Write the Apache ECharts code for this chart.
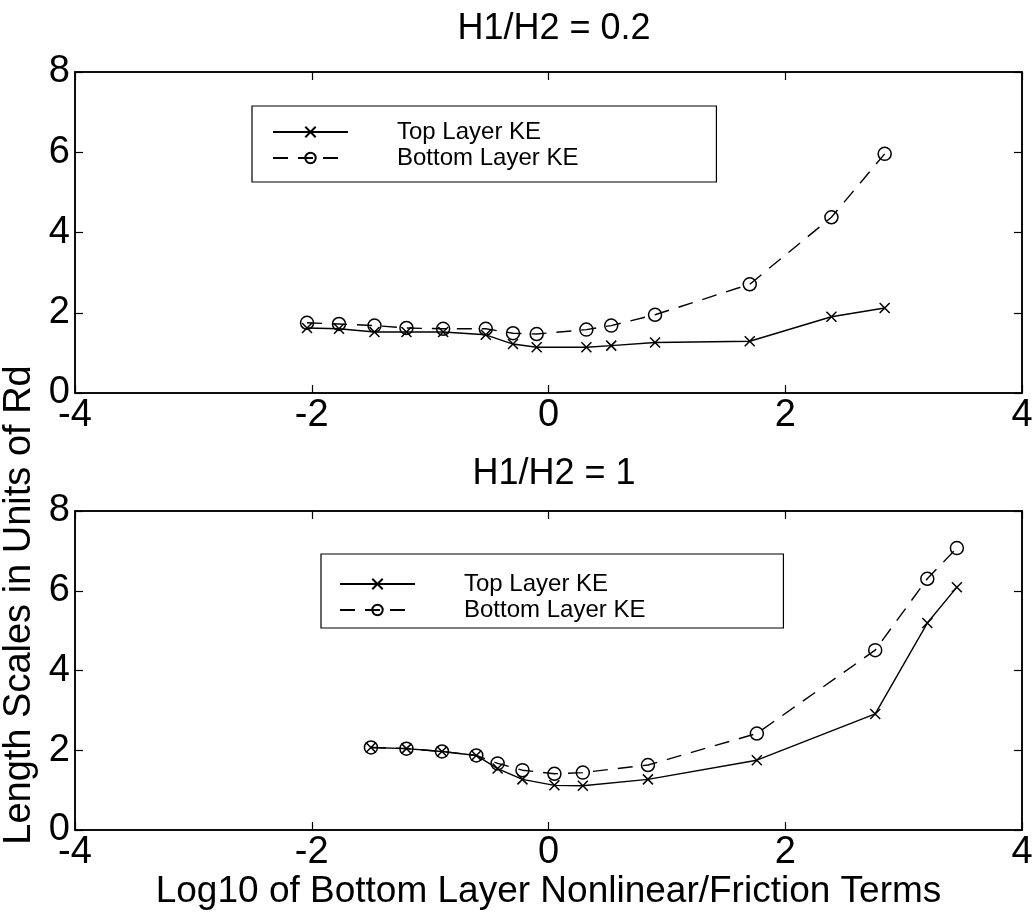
<!DOCTYPE html>
<html>
<head>
<meta charset="utf-8">
<script src="https://cdn.jsdelivr.net/npm/echarts@6/dist/echarts.min.js"></script>
<style>html,body{margin:0;padding:0;background:#fff}#c{width:1036px;height:921px}</style>
</head>
<body>
<div id="c"></div>
<script>
// H1/H2 = 0.2
const xTop = [-2.04, -1.77, -1.47, -1.20, -0.89, -0.53, -0.30, -0.10, 0.32, 0.53, 0.90, 1.70, 2.39, 2.84];
const topKE1 = [1.62, 1.60, 1.52, 1.52, 1.52, 1.45, 1.22, 1.14, 1.14, 1.18, 1.26, 1.29, 1.90, 2.12];
const botKE1 = [1.75, 1.72, 1.68, 1.62, 1.60, 1.60, 1.49, 1.47, 1.58, 1.68, 1.95, 2.71, 4.38, 5.96];
// H1/H2 = 1
const xBot = [-1.50, -1.20, -0.90, -0.61, -0.43, -0.22, 0.05, 0.29, 0.84, 1.76, 2.76, 3.20, 3.45];
const topKE2 = [2.07, 2.04, 1.97, 1.87, 1.54, 1.27, 1.12, 1.11, 1.27, 1.75, 2.91, 5.19, 6.09];
const botKE2 = [2.07, 2.04, 1.97, 1.87, 1.67, 1.50, 1.41, 1.44, 1.63, 2.42, 4.51, 6.30, 7.07];

const titles = ['H1/H2 = 0.2', 'H1/H2 = 1'];
const seriesNames = ['Top Layer KE', 'Bottom Layer KE'];
const xLabel = 'Log10 of Bottom Layer Nonlinear/Friction Terms';
const yLabel = 'Length Scales in Units of Rd';

const FONT = 'Liberation Sans';
const crossPath = 'path://M0,0L10,10M0,10L10,0';

function pairs(xs, ys) { return xs.map((x, i) => [x, ys[i]]); }

const grids = [
  {left: 75, top: 72, width: 947, height: 321},
  {left: 75, top: 511, width: 947, height: 319}
];

function xAxes(gi) {
  const base = {gridIndex: gi, type: 'value', min: -4, max: 4, interval: 2,
    splitLine: {show: false},
    axisLine: {show: true, onZero: false, lineStyle: {color: '#000', width: 1.5}},
    axisTick: {show: true, inside: true, length: 8, lineStyle: {color: '#000', width: 1.2}}};
  return [
    Object.assign({}, base, {position: 'bottom',
      axisLabel: {color: '#000', fontSize: 38, fontFamily: FONT, margin: 4},
      name: gi === 1 ? xLabel : '', nameLocation: 'middle', nameGap: 42,
      nameTextStyle: {color: '#000', fontSize: 37, fontFamily: FONT}}),
    Object.assign({}, base, {position: 'top', axisLabel: {show: false}})
  ];
}
function yAxes(gi) {
  const base = {gridIndex: gi, type: 'value', min: 0, max: 8, interval: 2,
    splitLine: {show: false},
    axisLine: {show: true, onZero: false, lineStyle: {color: '#000', width: 1.5}},
    axisTick: {show: true, inside: true, length: 8, lineStyle: {color: '#000', width: 1.2}}};
  return [
    Object.assign({}, base, {position: 'left',
      axisLabel: {color: '#000', fontSize: 38, fontFamily: FONT, margin: 5}}),
    Object.assign({}, base, {position: 'right', axisLabel: {show: false}})
  ];
}

function mkSeries(gi, xs, tops, bots) {
  return [
    {name: seriesNames[0], type: 'line', xAxisIndex: gi * 2, yAxisIndex: gi * 2,
      data: pairs(xs, tops), symbol: crossPath, symbolSize: 10, showSymbol: true,
      lineStyle: {color: '#000', width: 1.4, type: 'solid'},
      itemStyle: {color: 'none', borderColor: '#000', borderWidth: 1.5},
      animation: false, z: 3},
    {name: seriesNames[1], type: 'line', xAxisIndex: gi * 2, yAxisIndex: gi * 2,
      data: pairs(xs, bots), symbol: 'circle', symbolSize: 13, showSymbol: true,
      lineStyle: {color: '#000', width: 1.4, type: [15, 10]},
      itemStyle: {color: 'none', borderColor: '#000', borderWidth: 1.5},
      animation: false, z: 2}
  ];
}

function mkLegend(left, top, pad) {
  return {left: left, top: top, orient: 'vertical', data: seriesNames,
    itemWidth: 75, itemHeight: 13, itemGap: 0,
    padding: pad,
    borderColor: '#000', borderWidth: 1.2, backgroundColor: '#fff',
    selectedMode: false,
    textStyle: {color: '#000', fontSize: 24, fontFamily: FONT, lineHeight: 26, padding: [0, 0, 0, 44]}};
}

const chart = echarts.init(document.getElementById('c'), null, {renderer: 'canvas'});
chart.setOption({
  backgroundColor: '#fff',
  animation: false,
  title: [
    {text: titles[0], left: 549, top: 6, textAlign: 'center',
      textStyle: {color: '#000', fontSize: 36, fontWeight: 'normal', fontFamily: FONT}},
    {text: titles[1], left: 549, top: 451, textAlign: 'center',
      textStyle: {color: '#000', fontSize: 36, fontWeight: 'normal', fontFamily: FONT}}
  ],
  grid: grids.map(g => Object.assign({show: true, borderColor: '#000', borderWidth: 1.5, backgroundColor: '#fff'}, g)),
  xAxis: [...xAxes(0), ...xAxes(1)],
  yAxis: [...yAxes(0), ...yAxes(1)],
  legend: [mkLegend(252, 106, [13, 138, 11, 20]), mkLegend(321, 554, [17, 138, 5, 18])],
  series: [...mkSeries(0, xTop, topKE1, botKE1), ...mkSeries(1, xBot, topKE2, botKE2)],
  graphic: [
    {type: 'text', x: 20, y: 605, rotation: Math.PI / 2,
      style: {text: yLabel, font: '38px "Liberation Sans"', fill: '#000',
        textAlign: 'center', textVerticalAlign: 'middle', align: 'center', verticalAlign: 'middle'}}
  ]
});
</script>
</body>
</html>
